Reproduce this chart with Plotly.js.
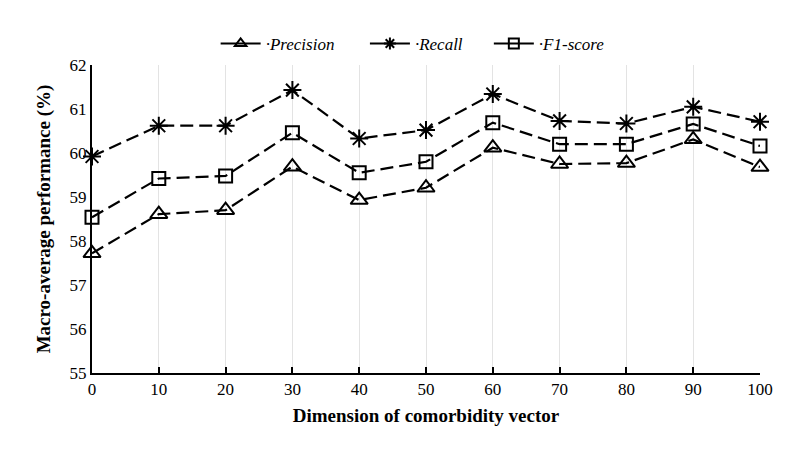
<!DOCTYPE html>
<html>
<head>
<meta charset="utf-8">
<script src="https://cdn.plot.ly/plotly-3.0.1.min.js"></script>
<style>html,body{margin:0;padding:0;background:#fff;}#chart{width:800px;height:465px;}</style>
</head>
<body>
<div id="chart"></div>
<script>
const dimensions = [0, 10, 20, 30, 40, 50, 60, 70, 80, 90, 100];
const precision = [57.72, 58.61, 58.70, 59.69, 58.93, 59.21, 60.12, 59.75, 59.77, 60.31, 59.68];
const recall    = [59.92, 60.62, 60.62, 61.43, 60.33, 60.52, 61.34, 60.73, 60.67, 61.05, 60.71];
const f1score   = [58.54, 59.42, 59.48, 60.46, 59.55, 59.80, 60.69, 60.20, 60.20, 60.66, 60.16];
const seriesNames = ['\u00b7Precision\u00a0\u00a0\u00a0\u00a0\u00a0\u00a0', '\u00b7Recall\u00a0\u00a0\u00a0\u00a0\u00a0', '\u00b7F1-score'];
const symbols = ['triangle-up-open', 'asterisk-open', 'square-open'];
const seriesValues = [precision, recall, f1score];

const traces = [];
seriesValues.forEach((vals, i) => {
  traces.push({
    x: dimensions, y: vals, type: 'scatter', mode: 'lines+markers',
    showlegend: false, cliponaxis: false,
    line: {color: '#000', width: 2.2, dash: '13px,6px'},
    marker: {symbol: symbols[i], size: i === 2 ? 13 : 15, color: '#000', line: {color: '#000', width: 2}}
  });
});
seriesValues.forEach((vals, i) => {
  traces.push({
    x: [null], y: [null], type: 'scatter', mode: 'lines+markers', name: seriesNames[i],
    line: {color: '#000', width: 2},
    marker: {symbol: symbols[i], size: 10, color: '#000', line: {color: '#000', width: 2}}
  });
});

const layout = {
  width: 800, height: 465,
  margin: {l: 92, r: 40, t: 65, b: 92},
  paper_bgcolor: '#fff', plot_bgcolor: '#fff',
  font: {family: 'Liberation Serif', color: '#000', size: 16},
  showlegend: true,
  legend: {orientation: 'h', x: 0.48, xanchor: 'center', y: 1.01, yanchor: 'bottom',
           font: {family: 'Liberation Serif', size: 17, style: 'italic'}, itemwidth: 40, tracegroupgap: 0},
  xaxis: {
    range: [0, 100], tickmode: 'array', tickvals: dimensions, ticktext: dimensions.map(String),
    showline: true, linecolor: '#000', linewidth: 2,
    ticks: 'inside', ticklen: 6, tickwidth: 2, tickcolor: '#000',
    showgrid: true, gridcolor: '#e3e3e3', gridwidth: 1, zeroline: false,
    tickfont: {family: 'Liberation Serif', size: 17},
    title: {text: '<b>Dimension of comorbidity vector</b>', font: {family: 'Liberation Serif', size: 19}, standoff: 10}
  },
  yaxis: {
    range: [55, 62], dtick: 1, tick0: 55,
    showline: true, linecolor: '#000', linewidth: 2,
    ticks: '', showgrid: false, zeroline: false,
    tickfont: {family: 'Liberation Serif', size: 17},
    title: {text: '<b>Macro-average performance (%)</b>', font: {family: 'Liberation Serif', size: 19}, standoff: 14}
  }
};

Plotly.newPlot('chart', traces, layout, {displayModeBar: false, staticPlot: true});
</script>
</body>
</html>
